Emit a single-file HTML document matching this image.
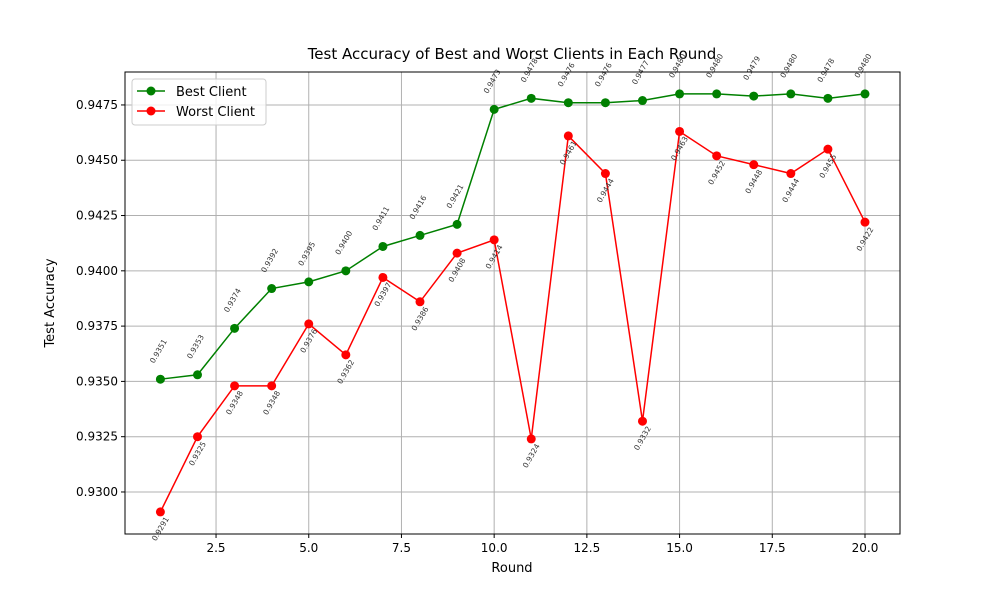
<!DOCTYPE html>
<html><head><meta charset="utf-8"><style>
body{margin:0;background:#fff;font-family:"Liberation Sans","DejaVu Sans",sans-serif}
</style></head><body>
<svg id="chart" width="1000" height="600" xmlns="http://www.w3.org/2000/svg" font-family="DejaVu Sans, Liberation Sans, sans-serif">
<rect width="1000" height="600" fill="#fff"/>
<text x="512" y="59" text-anchor="middle" font-size="15">Test Accuracy of Best and Worst Clients in Each Round</text>
<g id="grid"></g><g id="series"></g><g id="labels"></g><g id="axes"></g>
<text x="512" y="572" text-anchor="middle" font-size="13">Round</text>
<text transform="translate(54,303) rotate(-90)" text-anchor="middle" font-size="13">Test Accuracy</text>
<g>
<rect x="132" y="79" width="134" height="46" fill="#fff" fill-opacity="0.8" stroke="#ccc" rx="3"/>
<line x1="137" y1="91" x2="165" y2="91" stroke="green" stroke-width="1.5"/><circle cx="151" cy="91" r="4.5" fill="green"/>
<text x="176" y="96" font-size="13">Best Client</text>
<line x1="137" y1="111" x2="165" y2="111" stroke="red" stroke-width="1.5"/><circle cx="151" cy="111" r="4.5" fill="red"/>
<text x="176" y="116" font-size="13">Worst Client</text>
</g>
</svg>
<script>
const rounds=[1,2,3,4,5,6,7,8,9,10,11,12,13,14,15,16,17,18,19,20];
const bestVals=[0.9351,0.9353,0.9374,0.9392,0.9395,0.9400,0.9411,0.9416,0.9421,0.9473,0.9478,0.9476,0.9476,0.9477,0.9480,0.9480,0.9479,0.9480,0.9478,0.9480];
const worstVals=[0.9291,0.9325,0.9348,0.9348,0.9376,0.9362,0.9397,0.9386,0.9408,0.9414,0.9324,0.9461,0.9444,0.9332,0.9463,0.9452,0.9448,0.9444,0.9455,0.9422];
const xTicks=[2.5,5.0,7.5,10.0,12.5,15.0,17.5,20.0];
const yTicks=[0.9300,0.9325,0.9350,0.9375,0.9400,0.9425,0.9450,0.9475];
const L=125,R=900,T=72,B=534;
const xMin=0.045,xMax=20.944,yMin=0.92810,yMax=0.94899;
const X=v=>L+(v-xMin)/(xMax-xMin)*(R-L);
const Y=v=>B-(v-yMin)/(yMax-yMin)*(B-T);
const NS="http://www.w3.org/2000/svg";
function mk(p,t,a){const e=document.createElementNS(NS,t);for(const k in a)e.setAttribute(k,a[k]);document.getElementById(p).appendChild(e);return e;}
xTicks.forEach(v=>{const g=mk('grid','line',{x1:X(v),x2:X(v),y1:T,y2:B,stroke:'#b0b0b0','stroke-width':1});


mk('axes','line',{x1:X(v),x2:X(v),y1:B,y2:B+4,stroke:'#000'});
const t=mk('axes','text',{x:X(v),y:B+18,'text-anchor':'middle','font-size':12});t.textContent=v.toFixed(1);

});
yTicks.forEach(v=>{const g=mk('grid','line',{x1:L,x2:R,y1:Y(v),y2:Y(v),stroke:'#b0b0b0','stroke-width':1});


mk('axes','line',{x1:L-4,x2:L,y1:Y(v),y2:Y(v),stroke:'#000'});
const t=mk('axes','text',{x:L-7,y:Y(v)+4,'text-anchor':'end','font-size':12});t.textContent=v.toFixed(4);

});
const fr=mk('axes','rect',{x:L,y:T,width:R-L,height:B-T,fill:'none',stroke:'#000','stroke-width':1});


function series(vals,col,name,dy,dx){
const pl=mk('series','polyline',{points:vals.map((v,i)=>X(rounds[i])+','+Y(v)).join(' '),fill:'none',stroke:col,'stroke-width':1.5});


vals.forEach((v,i)=>{const c=mk('series','circle',{cx:X(rounds[i]),cy:Y(v),r:4.5,fill:col});


const cx=X(rounds[i])+dx,cy=Y(v)+dy;
const t=mk('labels','text',{x:cx,y:cy+2.5,'text-anchor':'middle','font-size':7.5,fill:'#333',transform:`rotate(-60 ${cx} ${cy})`});
t.textContent=v.toFixed(4);

});}
series(bestVals,'green','best-client',-28,-2);
series(worstVals,'red','worst-client',17,0);
</script>
</body></html>
